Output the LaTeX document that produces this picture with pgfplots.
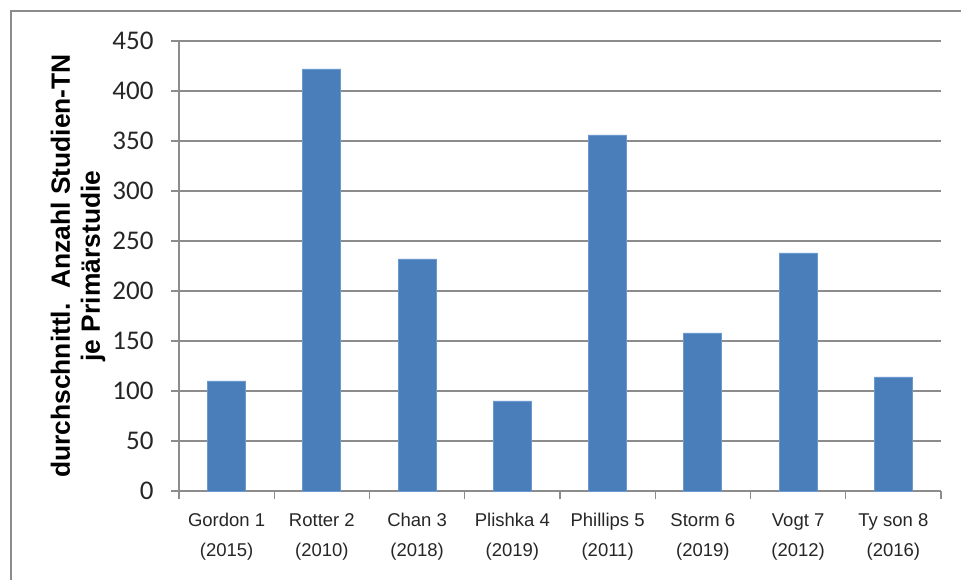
\documentclass[border=0pt]{standalone}
\usepackage{pgfplots}
\pgfplotsset{compat=1.18}
\usepackage{fontspec}
\setmainfont{Liberation Sans}
\newfontfamily\carlito{Carlito}
\definecolor{barblue}{HTML}{4A7EBB}
\definecolor{baredge}{HTML}{6A98CF}
\definecolor{gridgray}{HTML}{8C8C8C}
\begin{document}
\begin{tikzpicture}
\useasboundingbox (0,0) rectangle (961bp,580bp);
\begin{scope}
\clip (0,0) rectangle (961bp,580bp);
\draw[gridgray, line width=1.3bp] (11bp,-20bp) rectangle (1000bp,569bp);
\end{scope}
\begin{axis}[
  at={(179bp,89bp)}, anchor=south west,
  scale only axis, width=762bp, height=450bp,
  xmin=0.5, xmax=8.5, ymin=0, ymax=450,
  /pgf/number format/assume math mode=true,
  ytick={0,50,...,450},
  xtick={0.5,1.5,...,8.5},
  xticklabels={},
  extra x ticks={1,2,3,4,5,6,7,8},
  extra x tick labels={Gordon 1\\(2015),Rotter 2\\(2010),Chan 3\\(2018),Plishka 4\\(2019),Phillips 5\\(2011),Storm 6\\(2019),Vogt 7\\(2012),Ty son 8\\(2016)},
  extra x tick style={tick style={draw=none}, xticklabel style={align=center, anchor=north, font=\fontsize{18.5bp}{30bp}\selectfont, text=black!85, yshift=-11bp}},
  axis lines=left, axis line style={-, gridgray, line width=1.3bp},
  ymajorgrids, grid style={gridgray, line width=1.3bp},
  tick align=outside, major tick length=8bp,
  tick style={gridgray, line width=1.3bp},
  yticklabel style={font=\carlito\fontsize{27bp}{27bp}\selectfont, text=black!85, xshift=-14bp},
  ylabel={durchschnittl.\ \ Anzahl Studien-TN\\je Primärstudie},
  every axis y label/.style={at={(axis description cs:-0.1325,0.5)}, rotate=90, anchor=center, align=center, font=\bfseries\fontsize{26.4bp}{30bp}\selectfont},
  clip=false,
]
\addplot[ybar, bar width=38bp, fill=barblue, draw=baredge, line width=0.8bp] coordinates {
(1,110) (2,422) (3,232) (4,90) (5,356) (6,158) (7,238) (8,114)};
\end{axis}
\end{tikzpicture}
\end{document}
